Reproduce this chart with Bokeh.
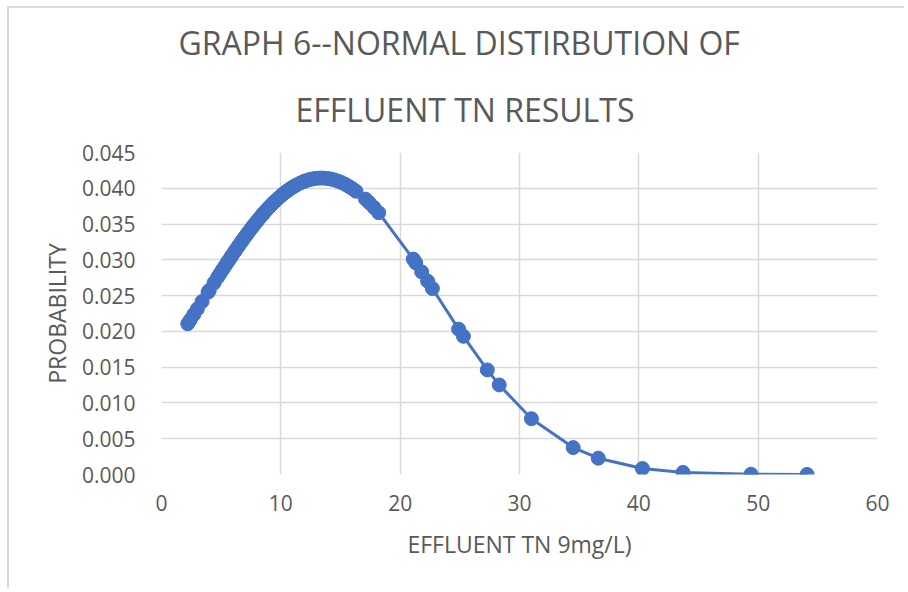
from bokeh.plotting import figure
from bokeh.models import Title, NumeralTickFormatter, FixedTicker, Range1d
from bokeh.embed import file_html
from bokeh.resources import INLINE

# effluent TN results (mg/L) and their normal probability density
tn_values = [2.2, 2.4, 2.7, 3.0, 3.4, 3.9, 4.0, 4.4, 4.7, 4.9, 5.1, 5.3, 5.5, 5.6, 5.8,
             5.9, 6.1, 6.2, 6.4, 6.5, 6.7, 6.8, 7.0, 7.1, 7.3, 7.5, 7.6, 7.8, 8.0, 8.2,
             8.4, 8.5, 8.7, 8.9, 9.1, 9.3, 9.5, 9.7, 9.9, 10.1, 10.3, 10.5, 10.7, 10.9,
             11.1, 11.3, 11.6, 11.9, 12.1, 12.4, 12.7, 13.0, 13.3, 13.6, 13.9, 14.2,
             14.5, 14.8, 15.1, 15.4, 15.7, 16.0, 16.3, 17.1, 17.4, 17.8, 18.2,
             21.1, 21.3, 21.8, 22.3, 22.7, 24.9, 25.3, 27.3, 28.3, 31.0, 34.5, 36.6,
             40.3, 43.7, 49.4, 54.1]
probability = [0.02107, 0.02158, 0.02235, 0.02313, 0.02417, 0.02547, 0.02573, 0.02677,
               0.02755, 0.02806, 0.02858, 0.02909, 0.02959, 0.02985, 0.03034, 0.03059,
               0.03108, 0.03133, 0.03181, 0.03205, 0.03253, 0.03276, 0.03322, 0.03345,
               0.03390, 0.03434, 0.03456, 0.03498, 0.03540, 0.03581, 0.03620, 0.03640,
               0.03678, 0.03715, 0.03750, 0.03784, 0.03817, 0.03848, 0.03878, 0.03907,
               0.03934, 0.03959, 0.03983, 0.04006, 0.04026, 0.04046, 0.04071, 0.04093,
               0.04105, 0.04121, 0.04132, 0.04139, 0.04143, 0.04142, 0.04137, 0.04129,
               0.04116, 0.04099, 0.04079, 0.04055, 0.04026, 0.03995, 0.03959, 0.03848,
               0.03800, 0.03732, 0.03659,
               0.03010, 0.02959, 0.02832, 0.02703, 0.02599, 0.02031, 0.01931, 0.01462,
               0.01252, 0.00780, 0.00376, 0.00228, 0.00084, 0.00029, 0.00004, 0.00001]

x_ticks = [0, 10, 20, 30, 40, 50, 60]
y_ticks = [0.0, 0.005, 0.010, 0.015, 0.020, 0.025, 0.030, 0.035, 0.040, 0.045]

title_line1 = "GRAPH  6--NORMAL DISTIRBUTION OF"
title_line2 = "EFFLUENT TN RESULTS"
x_title = "EFFLUENT TN 9mg/L)"
y_title = "PROBABILITY"

FONT = "Open Sans"
TEXT = "#595959"
BLUE = "#4472C4"
GRID = "#D9D9D9"

p = figure(width=897, height=582, output_backend="svg", toolbar_location=None,
           x_range=Range1d(x_ticks[0], x_ticks[-1]), y_range=Range1d(y_ticks[0], y_ticks[-1]),
           min_border_left=152, min_border_right=29, min_border_top=144, min_border_bottom=116)
p.styles = {"margin-left": "7px", "margin-top": "6px",
            "border-top": "2px solid #D9D9D9", "border-left": "2px solid #D9D9D9"}
p.outline_line_color = None
p.background_fill_color = "white"
p.border_fill_color = "white"

p.line(tn_values, probability, line_color=BLUE, line_width=3)
p.scatter(tn_values, probability, size=14, fill_color=BLUE, line_color=BLUE)

p.xaxis.ticker = FixedTicker(ticks=x_ticks)
p.yaxis.ticker = FixedTicker(ticks=y_ticks)
p.yaxis.formatter = NumeralTickFormatter(format="0.000")
for ax in (p.xaxis[0], p.yaxis[0]):
    ax.axis_line_color = None
    ax.major_tick_line_color = None
    ax.minor_tick_line_color = None
    ax.major_tick_in = 0
    ax.major_tick_out = 0
    ax.minor_tick_in = 0
    ax.minor_tick_out = 0
    ax.major_label_text_font = FONT
    ax.major_label_text_font_size = "21px"
    ax.major_label_text_color = TEXT
    ax.axis_label_text_font = FONT
    ax.axis_label_text_font_size = "23px"
    ax.axis_label_text_color = TEXT
    ax.axis_label_text_font_style = "normal"
p.xaxis.axis_label = x_title
p.yaxis.axis_label = y_title
p.xaxis.major_label_standoff = 20
p.yaxis.major_label_standoff = 26
p.xaxis.axis_label_standoff = 14
p.yaxis.axis_label_standoff = 6

p.xgrid.grid_line_color = GRID
p.ygrid.grid_line_color = GRID
p.xgrid.grid_line_width = 1.5
p.ygrid.grid_line_width = 1.5

t2 = Title(text=title_line2, align="left", offset=134, standoff=44, text_line_height=0.66,
           text_font=FONT, text_font_size="32px", text_color=TEXT, text_font_style="normal")
t1 = Title(text=title_line1, align="left", offset=17, standoff=0, text_line_height=0.66,
           text_font=FONT, text_font_size="32px", text_color=TEXT, text_font_style="normal")
p.add_layout(t2, "above")
p.add_layout(t1, "above")

open("out.html", "w").write(file_html(p, INLINE))
